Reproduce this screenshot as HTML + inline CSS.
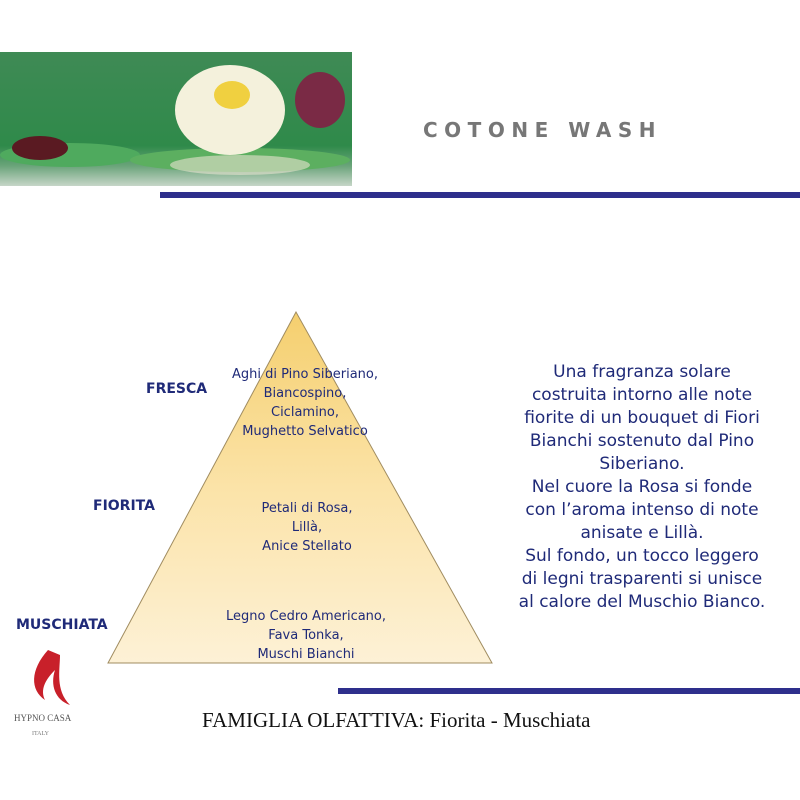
<!DOCTYPE html>
<html><head><meta charset="utf-8"><style>
body{margin:0;width:800px;height:800px;background:#fff;position:relative;overflow:hidden;font-family:"DejaVu Sans","Liberation Sans",sans-serif}
.a{position:absolute}
.t{position:absolute;text-align:center;color:#1f2a78;font-size:13px;line-height:19px;transform:translateX(-50%);white-space:nowrap}
.l{position:absolute;color:#1f2a78;font-weight:bold;font-size:14px}
</style></head><body>
<svg class="a" style="left:0;top:0" width="800" height="800">
<defs>
<linearGradient id="g" x1="0" y1="0" x2="0" y2="1"><stop offset="0" stop-color="#f5cf6e"/><stop offset="0.5" stop-color="#fbe3a8"/><stop offset="1" stop-color="#fdf1d6"/></linearGradient>
<linearGradient id="w" x1="0" y1="0" x2="0" y2="1"><stop offset="0" stop-color="#3f8a55"/><stop offset="0.7" stop-color="#2f8a4a"/><stop offset="0.85" stop-color="#6aa47a"/><stop offset="1" stop-color="#c6d6c8"/></linearGradient>
</defs>
<rect x="0" y="52" width="352" height="134" fill="url(#w)"/>
<ellipse cx="70" cy="155" rx="70" ry="12" fill="#4faa5e"/>
<ellipse cx="240" cy="160" rx="110" ry="12" fill="#5caf60"/>
<ellipse cx="40" cy="148" rx="28" ry="12" fill="#5a1a22"/>
<ellipse cx="320" cy="100" rx="25" ry="28" fill="#7a2a45"/>
<ellipse cx="230" cy="110" rx="55" ry="45" fill="#f4f1dc"/>
<ellipse cx="232" cy="95" rx="18" ry="14" fill="#f0d040"/>
<ellipse cx="240" cy="165" rx="70" ry="10" fill="#e8e2d0" opacity="0.6"/>
<rect x="160" y="192" width="640" height="6" fill="#2e2f8c"/>
<rect x="338" y="688" width="462" height="6" fill="#2e2f8c"/>
<polygon points="296,312 108,663 492,663" fill="url(#g)" stroke="#a08c60" stroke-width="1"/>
<path d="M48 650 C30 670 30 690 45 700 C40 690 45 680 55 670 C50 685 55 700 70 705 C55 690 60 670 60 655 Z" fill="#c8202a"/>
</svg>
<div class="a" style="left:423px;top:118px;font-size:20px;font-weight:bold;letter-spacing:6.5px;color:#777">COTONE WASH</div>
<div class="l" style="left:146px;top:381px">FRESCA</div>
<div class="l" style="left:93px;top:498px">FIORITA</div>
<div class="l" style="left:16px;top:617px">MUSCHIATA</div>
<div class="t" style="left:305px;top:365px">Aghi di Pino Siberiano,<br>Biancospino,<br>Ciclamino,<br>Mughetto Selvatico</div>
<div class="t" style="left:307px;top:499px">Petali di Rosa,<br>Lillà,<br>Anice Stellato</div>
<div class="t" style="left:306px;top:607px">Legno Cedro Americano,<br>Fava Tonka,<br>Muschi Bianchi</div>
<div class="t" style="left:642px;top:361px;font-size:17px;line-height:23px">Una fragranza solare<br>costruita intorno alle note<br>fiorite di un bouquet di Fiori<br>Bianchi sostenuto dal Pino<br>Siberiano.<br>Nel cuore la Rosa si fonde<br>con l’aroma intenso di note<br>anisate e Lillà.<br>Sul fondo, un tocco leggero<br>di legni trasparenti si unisce<br>al calore del Muschio Bianco.</div>
<div class="a" style="left:14px;top:713px;font-family:'Liberation Serif',serif;font-size:9px;color:#555">HYPNO CASA</div>
<div class="a" style="left:32px;top:731px;font-family:'Liberation Serif',serif;font-size:6px;color:#777">ITALY</div>
<div class="a" style="left:202px;top:708px;font-family:'Liberation Serif',serif;font-size:21px;color:#111">FAMIGLIA OLFATTIVA: Fiorita - Muschiata</div>
</body></html>
